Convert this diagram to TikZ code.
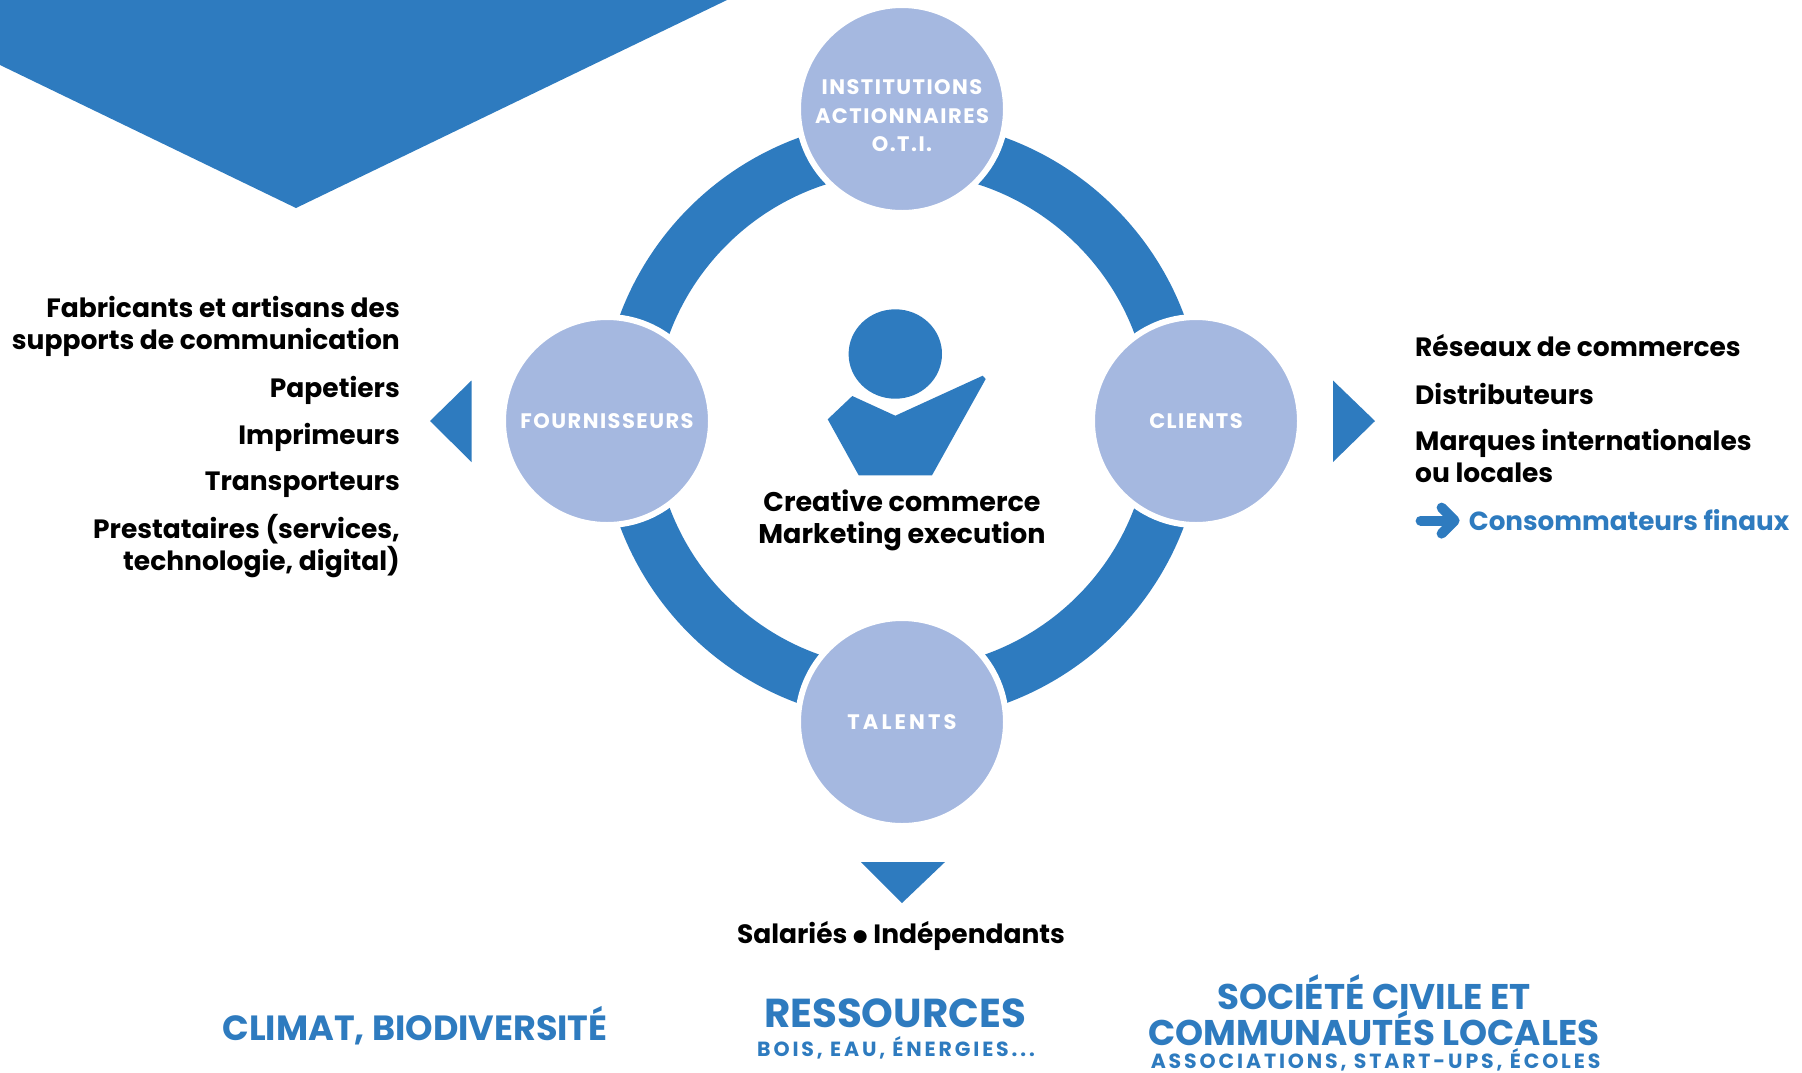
\documentclass[tikz,border=0pt]{standalone}
\usepackage{fontspec}
\setmainfont{Poppins}
\newfontfamily\capsfont{Poppins}[LetterSpace=7]
\newfontfamily\widefont{Poppins}[LetterSpace=15]
\newfontfamily\subfont{Poppins}[LetterSpace=14]
\newfontfamily\symfont{DejaVu Sans}
\usetikzlibrary{positioning, arrows.meta}
\definecolor{brandblue}{HTML}{2E7BBF}
\definecolor{softblue}{HTML}{A5B8E0}
\tikzset{
  actor/.style={circle, fill=softblue, draw=white, line width=6pt, minimum size=208pt, inner sep=0pt, text=white, align=center, font=\fontsize{21}{28.5}\selectfont\capsfont\bfseries},
  item/.style={inner sep=0pt, align=#1, font=\fontsize{26.5}{32}\selectfont\bfseries},
  headline/.style={inner sep=0pt, align=center, text=brandblue, font=\fontsize{#1}{33.5}\selectfont\bfseries},
  subline/.style={inner sep=0pt, align=center, text=brandblue, font=\fontsize{20.5}{24}\selectfont\subfont\bfseries},
}
\begin{document}
\begin{tikzpicture}[x=1pt, y=-1pt, node distance=2mm]
  \useasboundingbox (0,0) rectangle (1802,1072);
  \fill[brandblue] (0,0) -- (727,0) -- (296,208) -- (0,65) -- cycle;
  % ring behind the four circles
  \coordinate (hub) at (902,420.6);
  \draw[brandblue, line width=53pt] (hub) circle (274.6pt);
  \node[actor] (inst) at (902,109) {\rule{0pt}{29pt}INSTITUTIONS\\ACTIONNAIRES\\O.T.I.};
  \node[actor] (four) at (607,421) {FOURNISSEURS};
  \node[actor] (clients) at (1196,421) {CLIENTS};
  \node[actor, font=\fontsize{21}{28.5}\selectfont\widefont\bfseries] (talents) at (902,722) {TALENTS};
  \fill[brandblue] (471.5,380.5) -- (471.5,462) -- (430,421) -- cycle;
  \fill[brandblue] (1333,380.5) -- (1333,462) -- (1375,421) -- cycle;
  \fill[brandblue] (861,862) -- (945,862) -- (902,903) -- cycle;
  % person
  \fill[brandblue] (895.3,354) ellipse (46.7pt and 44.7pt);
  \fill[brandblue] (827.7,419.3) -- (852.3,396) -- (895.3,415.7) -- (982.7,375.7) -- (985.7,379) -- (932,475.3) -- (858.7,475.3) -- cycle;
  \node[item=center, font=\fontsize{27}{32}\selectfont\bfseries] (core) at (902,520) {Creative commerce\\Marketing execution};
  % left list
  \foreach \n/\y/\q in {a/326/{Fabricants et artisans des\\supports de communication},b/390/Papetiers,c/437/Imprimeurs,d/484.5/Transporteurs,e/546/{Prestataires (services,\\technologie, digital)}}{
    \node[item=right, anchor=east] (left\n) at (400,\y) {\q};
  }
  % right list
  \foreach \n/\y/\q in {a/346/Réseaux de commerces,b/393.5/Distributeurs,c/456/{Marques internationales\\ou locales}}{
    \node[item=left, anchor=west] (right\n) at (1415,\y) {\q};
  }
  \node[item=left, anchor=west, text=brandblue, font=\fontsize{26.2}{32}\selectfont\bfseries] (final) at (1468.6,520.6) {Consommateurs finaux};
  \coordinate[left=48pt of final.west] (finalstart);
  \draw[brandblue, line width=10pt, line cap=round, -{Straight Barb[round, length=13pt, width=26pt]}] (finalstart) -- ([xshift=-9pt]final.west);
  \node[item=center] (staff) at (901,936) {Salariés {\symfont\fontsize{17}{17}\selectfont\raisebox{2.5pt}{●}} Indépendants};
  % bottom row
  \node[headline=35] (climat) at (415,1026) {CLIMAT, BIODIVERSITÉ};
  \node[headline=40.4] (res) at (895,1013.5) {RESSOURCES};
  \node[subline] (ressub) at (896,1047.5) {BOIS, EAU, ÉNERGIES...};
  \node[headline=35.7] (soc) at (1374,1010) {SOCIÉTÉ CIVILE ET\\COMMUNAUTÉS LOCALES};
  \node[subline] (socsub) at (1375.6,1060) {ASSOCIATIONS, START-UPS, ÉCOLES};
\end{tikzpicture}
\end{document}
